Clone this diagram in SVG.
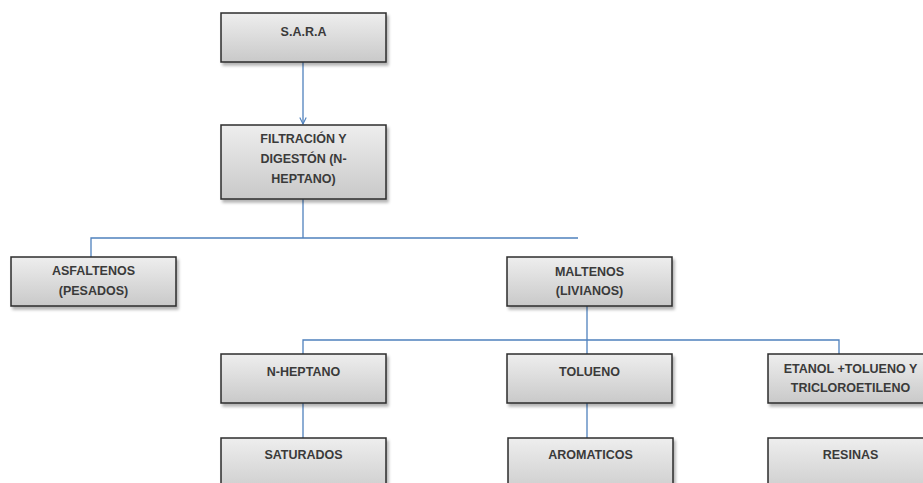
<svg xmlns="http://www.w3.org/2000/svg" width="923" height="483" viewBox="0 0 923 483">
  <style>
    .box { fill: url(#boxFill); stroke: #2b2b2b; stroke-width: 1.5; filter: url(#shadow); }
    .lbl { font-family: "Liberation Sans", Arial, sans-serif; font-size: 12.5px; font-weight: bold; fill: #3a3a3a; text-anchor: middle; }
    .wire { fill: none; stroke: #4f81bd; stroke-width: 1.3; }
  </style>
  <defs>
    <linearGradient id="boxFill" x1="0" y1="0" x2="0" y2="1">
      <stop offset="0" stop-color="#eeeeee"/>
      <stop offset="1" stop-color="#c9c9c9"/>
    </linearGradient>
    <filter id="shadow" x="-10%" y="-10%" width="125%" height="140%">
      <feGaussianBlur in="SourceAlpha" stdDeviation="1.5"/>
      <feOffset dx="2" dy="3" result="b"/>
      <feComponentTransfer><feFuncA type="linear" slope="0.3"/></feComponentTransfer>
      <feMerge><feMergeNode/><feMergeNode in="SourceGraphic"/></feMerge>
    </filter>
    <marker id="openArrow" viewBox="0 0 10 10" refX="9" refY="5" markerWidth="8" markerHeight="8" orient="auto" markerUnits="userSpaceOnUse">
      <path d="M1,1 L9,5 L1,9" fill="none" stroke="#4f81bd" stroke-width="1.4"/>
    </marker>
  </defs>
  <rect width="923" height="483" fill="#ffffff"/>

  <g id="connectors">
    <path class="wire" d="M303,62 V124" marker-end="url(#openArrow)"/>
    <path class="wire" d="M303,199 V238"/>
    <path class="wire" d="M91,257 V238 H578"/>
    <path class="wire" d="M587,306 V340"/>
    <path class="wire" d="M303,354 V340 H839 V354"/>
    <path class="wire" d="M587,340 V354"/>
    <path class="wire" d="M303,403 V438"/>
    <path class="wire" d="M587,403 V438"/>
  </g>

  <g id="sara">
    <rect class="box" x="221" y="13" width="165" height="49"/>
    <text class="lbl" x="303.5" y="36">S.A.R.A</text>
  </g>
  <g id="filtracion">
    <rect class="box" x="221" y="125" width="165" height="74"/>
    <text class="lbl" x="303.5" y="143">FILTRACIÓN Y</text>
    <text class="lbl" x="303.5" y="163">DIGESTÓN (N-</text>
    <text class="lbl" x="303.5" y="183">HEPTANO)</text>
  </g>
  <g id="asfaltenos">
    <rect class="box" x="11" y="257" width="165" height="49"/>
    <text class="lbl" x="93.5" y="275">ASFALTENOS</text>
    <text class="lbl" x="93.5" y="295">(PESADOS)</text>
  </g>
  <g id="maltenos">
    <rect class="box" x="507" y="257" width="165" height="49"/>
    <text class="lbl" x="589.5" y="276">MALTENOS</text>
    <text class="lbl" x="589.5" y="295">(LIVIANOS)</text>
  </g>
  <g id="n-heptano">
    <rect class="box" x="221" y="354" width="165" height="49"/>
    <text class="lbl" x="303.5" y="376">N-HEPTANO</text>
  </g>
  <g id="tolueno">
    <rect class="box" x="507" y="354" width="165" height="49"/>
    <text class="lbl" x="589.5" y="376">TOLUENO</text>
  </g>
  <g id="etanol">
    <rect class="box" x="768" y="354" width="165" height="49"/>
    <text class="lbl" x="850.5" y="373">ETANOL +TOLUENO Y</text>
    <text class="lbl" x="850.5" y="392">TRICLOROETILENO</text>
  </g>
  <g id="saturados">
    <rect class="box" x="221" y="438" width="165" height="60"/>
    <text class="lbl" x="303.5" y="459">SATURADOS</text>
  </g>
  <g id="aromaticos">
    <rect class="box" x="508" y="438" width="165" height="60"/>
    <text class="lbl" x="590.5" y="459">AROMATICOS</text>
  </g>
  <g id="resinas">
    <rect class="box" x="768" y="438" width="165" height="60"/>
    <text class="lbl" x="850.5" y="459">RESINAS</text>
  </g>
</svg>
